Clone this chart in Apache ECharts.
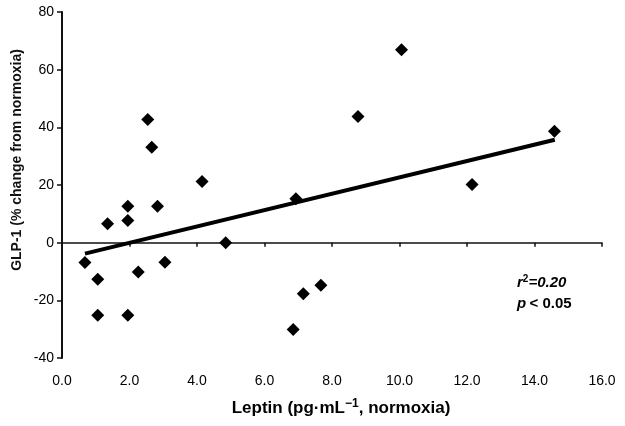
<!DOCTYPE html>
<html>
<head>
<meta charset="utf-8">
<script src="https://cdn.jsdelivr.net/npm/echarts@6/dist/echarts.min.js"></script>
<style>html,body{margin:0;padding:0;background:#fff;}#c{width:625px;height:426px;}</style>
</head>
<body>
<div id="c"></div>
<script>
// Data
var leptin = [0.68, 1.06, 1.06, 1.35, 1.95, 1.95, 1.95, 2.26, 2.54, 2.66, 2.83, 3.05, 4.15, 4.85, 6.85, 6.93, 7.15, 7.67, 8.77, 10.06, 12.15, 14.59];
var glp1   = [-6.9, -12.7, -25.2, 6.6, 12.6, 7.7, -25.2, -10.2, 42.7, 33.1, 12.6, -6.8, 21.2, 0.0, -30.1, 15.2, -17.7, -14.8, 43.8, 66.9, 20.2, 38.6];
var trendX = [0.68, 14.6];
var trendY = [-3.8, 35.7];
var xTicks = [0, 2, 4, 6, 8, 10, 12, 14, 16];
var yTicks = [-40, -20, 0, 20, 40, 60, 80];
var yTitle = 'GLP-1 (% change from normoxia)';
var statR = '0.20';
var statP = '< 0.05';

var pts = leptin.map(function (x, i) { return [x, glp1[i]]; });
var trend = trendX.map(function (x, i) { return [x, trendY[i]]; });
var FONT = '"Liberation Sans", Arial, sans-serif';

var chart = echarts.init(document.getElementById('c'), null, {renderer: 'canvas'});
chart.setOption({
  animation: false,
  backgroundColor: '#fff',
  grid: {left: 62, right: 23, top: 12, bottom: 68},
  xAxis: [
    {
      type: 'value', position: 'bottom',
      min: xTicks[0], max: xTicks[xTicks.length - 1], interval: 2,
      axisLine: {show: false, onZero: false}, axisTick: {show: false}, splitLine: {show: false},
      axisLabel: {margin: 16, fontFamily: FONT, fontSize: 14, color: '#000',
        formatter: function (v) { return v.toFixed(1); }}
    },
    {
      type: 'value', position: 'top',
      min: xTicks[0], max: xTicks[xTicks.length - 1], interval: 2,
      axisLine: {show: true, onZero: true, onZeroAxisIndex: 0, lineStyle: {color: '#111', width: 1.5}},
      axisTick: {show: true, inside: true, length: 4, lineStyle: {color: '#111', width: 1.5}},
      axisLabel: {show: false}, splitLine: {show: false}
    }
  ],
  yAxis: {
    type: 'value',
    min: yTicks[0], max: yTicks[yTicks.length - 1], interval: 20,
    axisLine: {show: true, onZero: false, lineStyle: {color: '#111', width: 2}},
    axisTick: {show: true, length: 5, lineStyle: {color: '#111', width: 1.5}},
    splitLine: {show: false},
    axisLabel: {margin: 8, fontFamily: FONT, fontSize: 14, color: '#000'}
  },
  series: [
    {
      type: 'scatter', xAxisIndex: 0, data: pts,
      symbol: 'diamond', symbolSize: 13,
      itemStyle: {color: '#000', opacity: 1}
    },
    {
      type: 'line', xAxisIndex: 0, data: trend,
      showSymbol: false, symbol: 'none',
      lineStyle: {color: '#000', width: 4}
    }
  ],
  graphic: [
    {
      type: 'text', x: 17, y: 160, rotation: Math.PI / 2,
      style: {text: yTitle, fontFamily: FONT, fontSize: 14, fontWeight: 'bold', fill: '#111',
        textAlign: 'center', textVerticalAlign: 'middle'}
    },
    {
      type: 'text', x: 341, y: 408,
      style: {
        text: '{a|Leptin (pg·mL}{s|−1}{a|, normoxia)}',
        textAlign: 'center', textVerticalAlign: 'middle',
        rich: {
          a: {fontFamily: FONT, fontSize: 17, fontWeight: 'bold', color: '#111'},
          s: {fontFamily: FONT, fontSize: 12, fontWeight: 'bold', color: '#111', padding: [0, 0, 8, 0]}
        }
      }
    },
    {
      type: 'text', x: 517, y: 283,
      style: {
        text: '{i|r}{s|2}{i|=' + statR + '}',
        textVerticalAlign: 'middle',
        rich: {
          i: {fontFamily: FONT, fontSize: 15, fontWeight: 'bold', fontStyle: 'italic', color: '#111'},
          s: {fontFamily: FONT, fontSize: 10, fontWeight: 'bold', color: '#111', padding: [0, 0, 7, 0]}
        }
      }
    },
    {
      type: 'text', x: 517, y: 304,
      style: {
        text: '{i|p} {b|' + statP + '}',
        textVerticalAlign: 'middle',
        rich: {
          i: {fontFamily: FONT, fontSize: 15, fontWeight: 'bold', fontStyle: 'italic', color: '#111'},
          b: {fontFamily: FONT, fontSize: 15, fontWeight: 'bold', color: '#111'}
        }
      }
    }
  ]
});
</script>
</body>
</html>
